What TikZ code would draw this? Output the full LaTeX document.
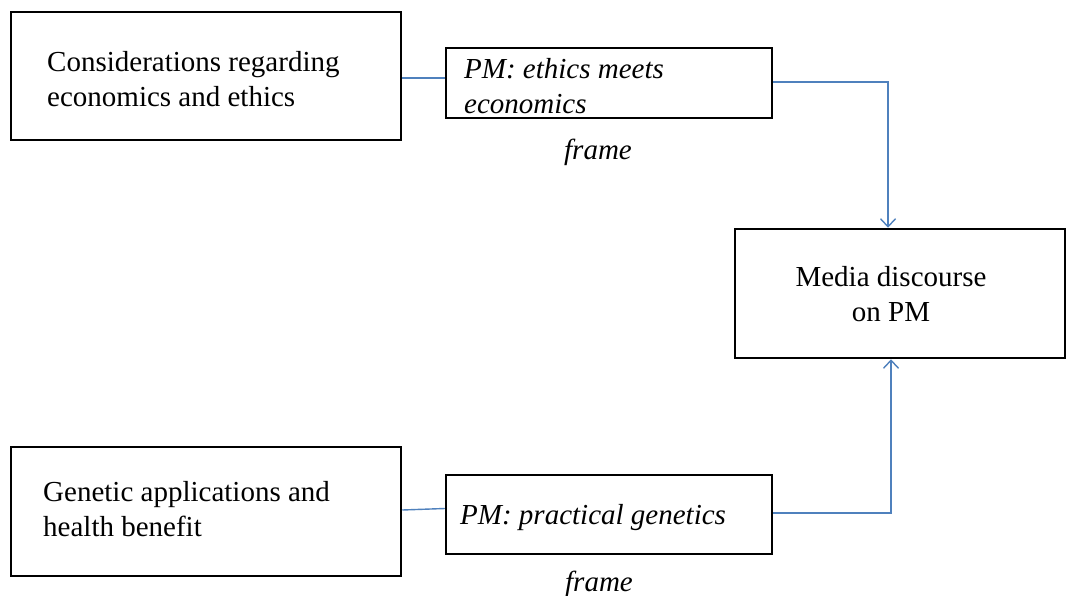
\documentclass[tikz,border=0pt]{standalone}
\usepackage{fontspec}
\setmainfont{Liberation Serif}
\usetikzlibrary{arrows.meta}
\definecolor{linkblue}{HTML}{4F81BD}
\begin{document}
\begin{tikzpicture}[x=1pt,y=-1pt,
  box/.style={draw=black, line width=2.5pt, rectangle, inner sep=0pt},
  txt/.style={font=\fontsize{29}{35}\selectfont, align=left, inner sep=0pt, anchor=west},
  conn/.style={draw=linkblue, line width=1.4pt},
  arr/.style={conn, -{Straight Barb[length=8pt,width=15pt,line width=1.4pt]}},
  lab/.style={font=\fontsize{29}{35}\selectfont\itshape, inner sep=0pt}]
\useasboundingbox (0,0) rectangle (1067,596);
\fill[white] (0,0) rectangle (1067,596);
% boxes
\node[box, minimum width=390pt, minimum height=128pt] (consid) at (206,76) {};
\node[box, minimum width=326pt, minimum height=70pt] (ethics) at (609,83) {};
\node[box, minimum width=330pt, minimum height=129pt] (media) at (900,293.5) {};
\node[box, minimum width=390pt, minimum height=129pt] (genetic) at (206,511.5) {};
\node[box, minimum width=326pt, minimum height=79pt] (practical) at (609,514.5) {};
% texts
\node[txt] (considtext) at (47,79.5) {Considerations regarding\\economics and ethics};
\node[txt, font=\fontsize{29}{35}\selectfont\itshape] (ethicstext) at (464,86) {PM: ethics meets\\economics};
\node[txt, align=center, anchor=center] (mediatext) at (891,294) {Media discourse\\on PM};
\node[txt] (genetictext) at (43,509) {Genetic applications and\\health benefit};
\node[txt, font=\fontsize{29}{35}\selectfont\itshape] (practicaltext) at (460,517.5) {PM: practical genetics};
% labels
\node[lab] (frame1) at (598,152) {frame};
\node[lab] (frame2) at (599,584) {frame};
% connectors
\draw[conn] ([yshift=-2pt]consid.east) -- ([yshift=-2pt]consid.east -| ethics.west);
\draw[arr] ([yshift=1pt]ethics.east) -| ([xshift=-12pt]media.north);
\draw[conn] ([yshift=1.5pt]genetic.east) -- ([yshift=6pt]practical.west);
\draw[arr] ([yshift=1.5pt]practical.east) -| ([xshift=-9pt]media.south);
\end{tikzpicture}
\end{document}
